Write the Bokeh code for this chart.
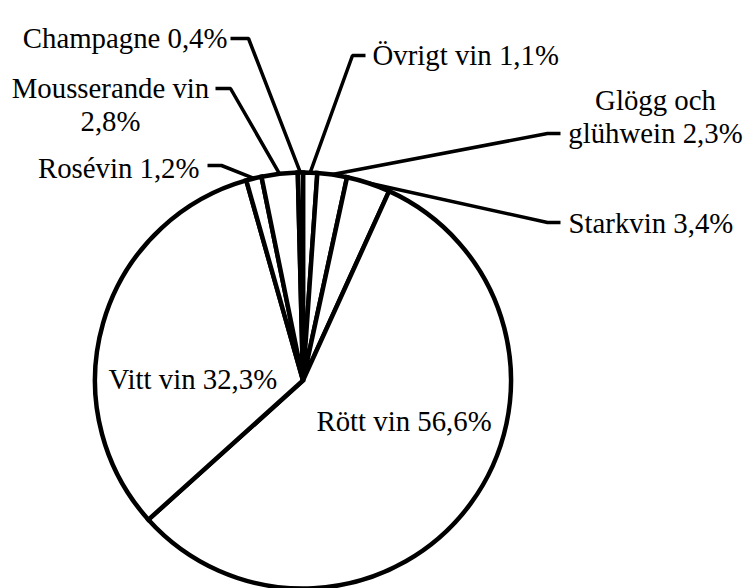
import numpy as np
from bokeh.plotting import figure
from bokeh.models import Range1d
from bokeh.embed import file_html
from bokeh.resources import INLINE
from bokeh.core.properties import value

# ---- data (clockwise from 12 o'clock) ----
categories = ["Övrigt vin", "Glögg och\nglühwein", "Starkvin", "Rött vin",
              "Vitt vin", "Rosévin", "Mousserande vin", "Champagne"]
shares = [1.1, 2.3, 3.4, 56.6, 32.3, 1.2, 2.8, 0.4]
label_sep = [" ", " ", " ", " ", " ", " ", "\n", " "]

# ---- layout (image pixel coordinates, y downward) ----
W, H = 747, 588
CX, CY, R = 302.5, 380.0, 208.0
FONT = "Liberation Serif"
FS = 28.8
LINE_H = 33.5

# label anchor: x, baseline y of first line, alignment
label_pos = [
    (372, 54, "left"),
    (655, 99, "center"),
    (568, 222, "left"),
    (316, 420, "left"),
    (108, 378, "left"),
    (199, 167, "right"),
    (110, 87, "center"),
    (227, 37, "right"),
]
# leader: (start x, end-of-horizontal x, y) or None for inside labels
leader_pos = [
    (365, 352, 55),
    (560, 547, 133),
    (560, 547, 222),
    None,
    None,
    (207, 221, 165),
    (215, 230, 88),
    (230, 248, 38),
]


def Y(iy):
    return H - iy


p = figure(width=W, height=H, output_backend="svg", toolbar_location=None,
           x_range=Range1d(0, W), y_range=Range1d(0, H),
           min_border=0, outline_line_color=None,
           x_axis_location=None, y_axis_location=None)
p.grid.visible = False
p.background_fill_color = "white"
p.border_fill_color = "white"

vals = np.array(shares, dtype=float)
frac = vals / vals.sum()
cum = np.concatenate([[0.0], np.cumsum(frac)])
start = np.pi / 2 - 2 * np.pi * cum[:-1]
end = np.pi / 2 - 2 * np.pi * cum[1:]

p.wedge(x=CX, y=Y(CY), radius=R, start_angle=start, end_angle=end,
        direction="clock", fill_color="white", line_color="black",
        line_width=4.5, line_join="miter")

# leader lines
mid = 2 * np.pi * (cum[:-1] + cum[1:]) / 2  # clockwise from top
xs, ys = [], []
for i, lp in enumerate(leader_pos):
    if lp is None:
        continue
    x0, x1, ly = lp
    ex = CX + R * np.sin(mid[i])
    ey = CY - R * np.cos(mid[i])
    xs.append([x0, x1, ex])
    ys.append([Y(ly), Y(ly), Y(ey)])
p.multi_line(xs=xs, ys=ys, line_color="black", line_width=3.5)

# labels
tx, ty, tt, ta = [], [], [], []
for i, name in enumerate(categories):
    pct = f"{shares[i]:.1f}".replace(".", ",") + "%"
    label = name + label_sep[i] + pct
    x, by, al = label_pos[i]
    for k, line in enumerate(label.split("\n")):
        tx.append(x)
        ty.append(Y(by + k * LINE_H))
        tt.append(line)
        ta.append(al)

p.text(x=tx, y=ty, text=tt, text_align=ta, text_baseline="alphabetic",
       text_font=value(FONT), text_font_size=f"{FS}px", text_color="black")

open("out.html", "w").write(file_html(p, INLINE))
